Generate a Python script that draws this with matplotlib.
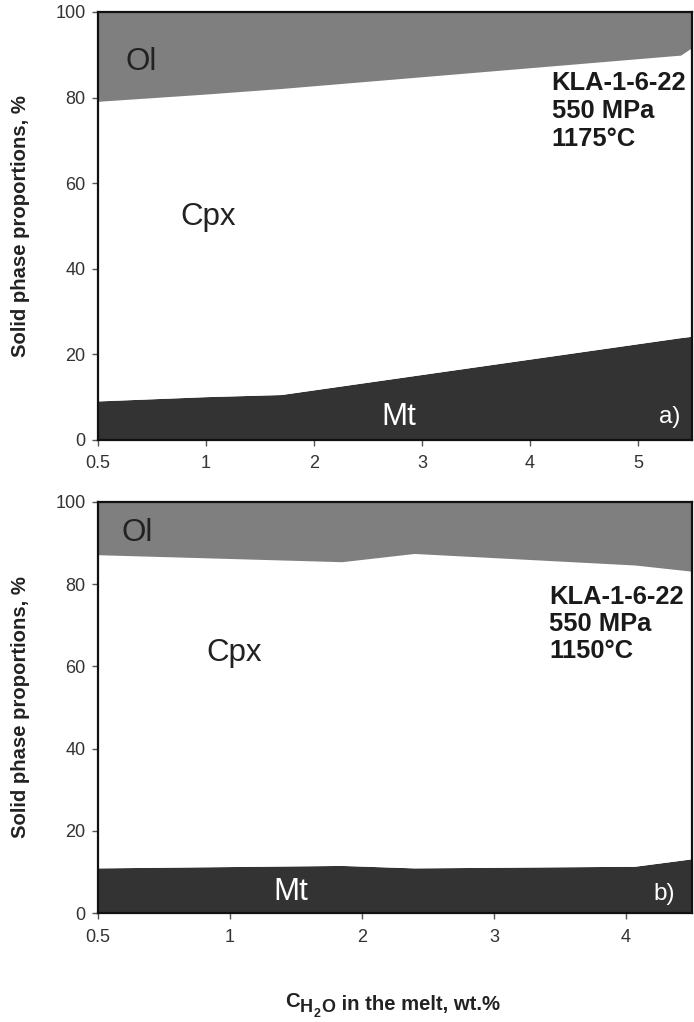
import matplotlib
matplotlib.use("Agg")
import matplotlib.pyplot as plt

plt.rcParams['font.family'] = ['Liberation Sans', 'DejaVu Sans']

# Panel a) 1175 °C
x_a = [0.0, 1.0, 1.7, 5.4, 5.5]
mt_a = [9.0, 10.0, 10.5, 23.8, 24.1]
cpx_a = [70.0, 70.7, 71.5, 66.0, 67.4]
ol_a = [21.0, 19.3, 18.0, 10.2, 8.5]

# Panel b) 1150 °C
x_b = [0.0, 1.85, 2.4, 4.07, 4.5]
mt_b = [10.9, 11.5, 10.9, 11.3, 13.1]
cpx_b = [76.1, 73.8, 76.4, 73.2, 69.9]
ol_b = [13.0, 14.7, 12.7, 15.5, 17.0]

ticks_a = [0, 1, 2, 3, 4, 5]
ticklabels_a = ['0.5', '1', '2', '3', '4', '5']
ticks_b = [0, 1, 2, 3, 4]
ticklabels_b = ['0.5', '1', '2', '3', '4']
yticks = [0, 20, 40, 60, 80, 100]

c_ol = '#7f7f7f'
c_mt = '#333333'
c_cpx = '#ffffff'
c_text = '#222222'

W, H = 694, 1022
fig = plt.figure(figsize=(W / 100, H / 100), dpi=100)
ax_a = fig.add_axes([0.1412, 0.5695, 0.8559, 0.4188])
ax_b = fig.add_axes([0.1412, 0.1064, 0.8559, 0.4027])


def draw_panel(ax, x, mt, cpx, ol, ticks, labels, xmax):
    ax.stackplot(x, mt, cpx, ol, colors=[c_mt, c_cpx, c_ol], linewidth=0)
    ax.set_xlim(0, xmax)
    ax.set_ylim(0, 100)
    ax.set_xticks(ticks)
    ax.set_xticklabels(labels)
    ax.set_yticks(yticks)
    for s in ax.spines.values():
        s.set_linewidth(1.6)
        s.set_color('#111111')
    ax.tick_params(direction='out', length=4, width=1, color='#555555',
                   labelsize=13, labelcolor='#333333')
    ax.tick_params(axis='x', pad=7)
    ax.tick_params(axis='y', pad=5)
    ax.set_ylabel('Solid phase proportions, %', fontsize=14.6,
                  fontweight='bold', color=c_text)
    ax.yaxis.set_label_coords(-0.1145, 0.5)


draw_panel(ax_a, x_a, mt_a, cpx_a, ol_a, ticks_a, ticklabels_a, 5.5)
draw_panel(ax_b, x_b, mt_b, cpx_b, ol_b, ticks_b, ticklabels_b, 4.5)

label_kw = dict(fontsize=22.5, ha='center', va='center')
ax_a.text(0.4, 88.3, 'Ol', color=c_text, **label_kw)
ax_a.text(1.02, 52.0, 'Cpx', color=c_text, **label_kw)
ax_a.text(2.79, 5.4, 'Mt', color='white', **label_kw)
ax_a.text(5.29, 5.4, 'a)', color='white', fontsize=17.5, ha='center', va='center')
ax_a.text(4.2, 86.3, 'KLA-1-6-22\n550 MPa\n1175°C', fontsize=18.4,
          fontweight='bold', color='#1a1a1a', ha='left', va='top', linespacing=1.22)

ax_b.text(0.3, 92.4, 'Ol', color=c_text, **label_kw)
ax_b.text(1.03, 63.2, 'Cpx', color=c_text, **label_kw)
ax_b.text(1.46, 5.2, 'Mt', color='white', **label_kw)
ax_b.text(4.29, 4.6, 'b)', color='white', fontsize=17.5, ha='center', va='center')
ax_b.text(3.42, 79.8, 'KLA-1-6-22\n550 MPa\n1150°C', fontsize=18.4,
          fontweight='bold', color='#1a1a1a', ha='left', va='top', linespacing=1.17)

# Shared x-axis title, built piece by piece: C with a near full-size H2O subscript
renderer = fig.canvas.get_renderer()
pieces = [
    ('C', 14.6, 1007),
    ('H', 13.0, 1012),
    ('2', 9.0, 1017),
    ('O', 13.0, 1012),
    (' in the melt, wt.%', 14.6, 1010),
]
x_px = 285.0
for txt, size, base_px in pieces:
    t = fig.text(x_px / W, 1 - base_px / H, txt, fontsize=size, fontweight='bold',
                 color=c_text, ha='left', va='baseline')
    x_px = t.get_window_extent(renderer).x1 + 0.5

fig.savefig('out.png', dpi=100, facecolor='white')
